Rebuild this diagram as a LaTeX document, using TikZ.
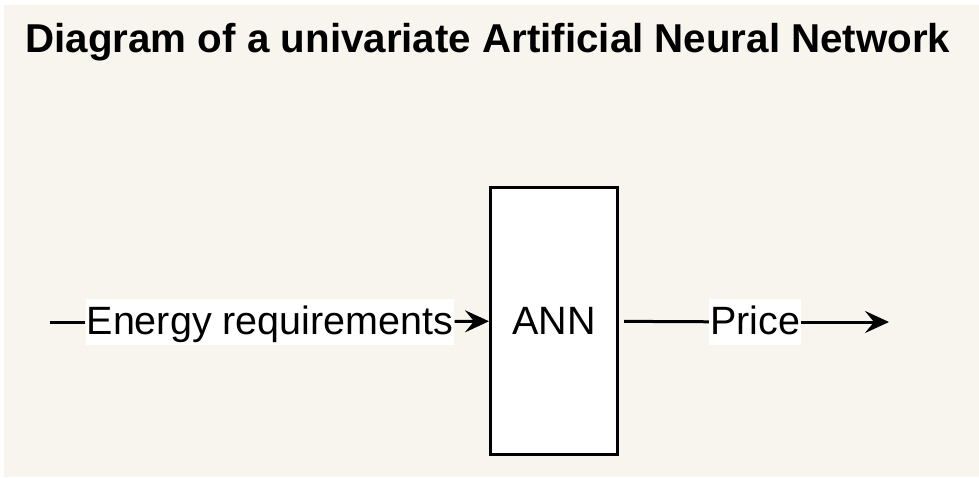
\documentclass[tikz,border=0pt]{standalone}
\usepackage{fontspec}
\setmainfont{Liberation Sans}
\usetikzlibrary{positioning,arrows.meta}

\definecolor{paper}{HTML}{F8F5EE}

\begin{document}
\begin{tikzpicture}[
    x=1pt, y=-1pt,
    signal/.style = {fill=white, inner xsep=1pt, inner ysep=4pt, text height=31pt, text depth=7pt,
                     font=\fontsize{39.5}{42}\selectfont},
    wire/.style = {line width=3pt},
    flow/.style = {wire, -{Stealth[length=24pt, width=22pt, inset=9pt]}},
    block/.style = {draw, line width=3pt, fill=white, minimum width=127pt, minimum height=267pt,
                    font=\fontsize{39.5}{42}\selectfont}
  ]
    % canvas
    \fill[white] (0,0) rectangle (979,477);
    \fill[paper] (4,5) rectangle (979,477);

    \node[anchor=base west, font=\bfseries\fontsize{40.3}{44}\selectfont] (title) at (22,52)
      {Diagram of a univariate Artificial Neural Network};

    \node[block] (ann) at (554,321) {ANN};
    \coordinate (in) at (50,322);
    \node[signal] (energy) at (270,322) {Energy requirements};
    \node[signal] (price) at (755,322) {Price};
    \coordinate (out) at (889,322);

    \draw[wire] (in) -- (energy);
    \draw[flow] (energy) -- (ann);
    \draw[wire, shorten <=5pt] (ann) -- (price);
    \draw[flow] (price) -- (out);
\end{tikzpicture}
\end{document}
